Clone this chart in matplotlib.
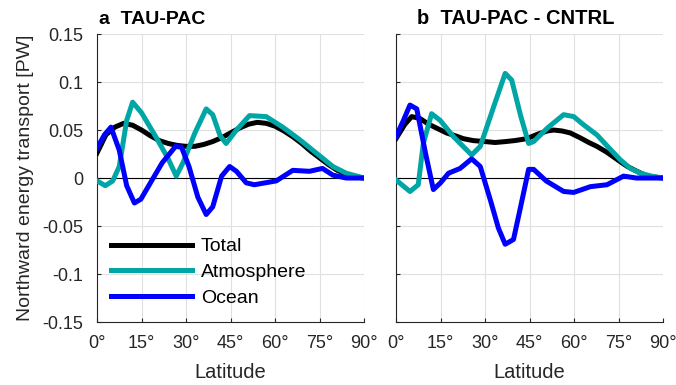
import matplotlib
matplotlib.use('Agg')
import matplotlib.pyplot as plt
import numpy as np

plt.rcParams['font.family'] = ['Liberation Sans', 'DejaVu Sans']

# panel a: TAU-PAC
a_tot_lat = [0, 3, 6, 9, 12, 15, 18, 21, 24, 27, 30, 33, 36, 39, 42, 45, 48, 51, 54,
             57, 60, 63, 66, 69, 72, 75, 78, 81, 84, 87, 90]
a_tot = [0.026, 0.045, 0.053, 0.057, 0.055, 0.050, 0.044, 0.039, 0.036, 0.034, 0.033,
         0.033, 0.035, 0.038, 0.042, 0.047, 0.052, 0.056, 0.058, 0.057, 0.054, 0.049,
         0.043, 0.036, 0.028, 0.021, 0.014, 0.008, 0.004, 0.001, 0.0]
a_atm_lat = [0, 2.8, 5.3, 7.5, 10, 12, 15, 20, 24, 26.7, 29, 33, 36.8, 39, 41.5, 43.5,
             47, 51.4, 57, 62.6, 68.3, 73.9, 79.5, 84, 90]
a_atm = [-0.003, -0.008, -0.003, 0.012, 0.060, 0.079, 0.068, 0.042, 0.020, 0.002, 0.016,
         0.047, 0.072, 0.066, 0.044, 0.036, 0.050, 0.065, 0.064, 0.053, 0.040, 0.026,
         0.012, 0.005, 0.0]
a_ocn_lat = [0, 2.5, 4.7, 7.5, 10, 12.6, 14.8, 18, 22, 26.5, 28.5, 31, 34, 36.8, 39,
             42, 44.7, 47, 50.3, 53, 60.4, 66, 71.6, 76, 79.5, 84, 90]
a_ocn = [0.031, 0.045, 0.053, 0.029, -0.008, -0.026, -0.022, -0.005, 0.016, 0.033,
         0.032, 0.012, -0.020, -0.038, -0.030, 0.002, 0.012, 0.007, -0.005, -0.007,
         -0.003, 0.008, 0.007, 0.010, 0.003, 0.0, 0.0]

# panel b: TAU-PAC - CNTRL
b_tot_lat = [0, 3, 5.3, 8.1, 11, 13.7, 17, 20, 22.7, 26, 30, 33.4, 37, 40, 44.1, 48,
             51, 53.1, 56, 58.7, 62, 65, 67.7, 71, 75.6, 78, 81.2, 84, 87, 90]
b_tot = [0.041, 0.056, 0.064, 0.062, 0.056, 0.052, 0.047, 0.044, 0.041, 0.039, 0.038,
         0.037, 0.038, 0.039, 0.041, 0.046, 0.049, 0.050, 0.049, 0.047, 0.042, 0.037,
         0.033, 0.027, 0.017, 0.012, 0.007, 0.003, 0.001, 0.0]
b_atm_lat = [0, 4.7, 7.5, 9.2, 12, 14.9, 19.4, 25.5, 28.4, 33, 36.8, 39, 42, 44.7,
             46.4, 51, 56.5, 59.9, 63, 67.7, 71, 75.6, 79, 82.4, 86, 90]
b_atm = [-0.002, -0.014, -0.007, 0.036, 0.067, 0.060, 0.043, 0.024, 0.033, 0.075,
         0.109, 0.102, 0.065, 0.036, 0.038, 0.052, 0.066, 0.064, 0.056, 0.045, 0.034,
         0.019, 0.010, 0.005, 0.002, 0.0]
b_ocn_lat = [0, 2.5, 4.7, 7, 10, 12.6, 15, 17.7, 21.6, 25.5, 28.4, 32, 34.5, 36.8,
             39.6, 42, 44.7, 46.4, 50.6, 56.5, 59.9, 65.5, 71.1, 76.7, 81, 90]
b_ocn = [0.043, 0.060, 0.076, 0.072, 0.025, -0.012, -0.005, 0.005, 0.010, 0.020, 0.012,
         -0.025, -0.052, -0.069, -0.064, -0.030, 0.009, 0.009, -0.003, -0.014, -0.015,
         -0.009, -0.007, 0.002, 0.0, 0.0]

xticks = [0, 15, 30, 45, 60, 75, 90]
yticks = [-0.15, -0.1, -0.05, 0, 0.05, 0.1, 0.15]
ytick_labels = ['-0.15', '-0.1', '-0.05', '0', '0.05', '0.1', '0.15']

c_tot = 'black'
c_atm = '#00a6a6'
c_ocn = '#0000ff'
lw = 3.6
txt = '#262626'

fig = plt.figure(figsize=(6.76, 3.85), dpi=100, facecolor='w')
ax1 = fig.add_axes([0.1435, 0.1636, 0.395, 0.748])
ax2 = fig.add_axes([0.5858, 0.1636, 0.395, 0.748])

panels = [
    (ax1, a_tot_lat, a_tot, a_atm_lat, a_atm, a_ocn_lat, a_ocn),
    (ax2, b_tot_lat, b_tot, b_atm_lat, b_atm, b_ocn_lat, b_ocn),
]

for ax, tl, tv, al, av, ol, ov in panels:
    ax.axhline(0, color='black', linewidth=0.8, zorder=1)
    ax.plot(tl, tv, color=c_tot, linewidth=lw, label='Total', zorder=3)
    ax.plot(al, av, color=c_atm, linewidth=lw, label='Atmosphere', zorder=3)
    ax.plot(ol, ov, color=c_ocn, linewidth=lw, label='Ocean', zorder=4)
    ax.set_xlim(0, 90)
    ax.set_ylim(-0.15, 0.15)
    ax.set_xticks(xticks)
    ax.set_xticklabels([str(t) + '\u00b0' for t in xticks])
    ax.set_yticks(yticks)
    ax.grid(True, color='#e0e0e0', linewidth=0.8, zorder=0)
    ax.set_axisbelow(True)
    for s in ['top', 'right']:
        ax.spines[s].set_visible(False)
    ax.spines['left'].set_color(txt)
    ax.spines['bottom'].set_color(txt)
    ax.tick_params(direction='in', length=3, labelsize=13, colors=txt,
                   labelcolor=txt)
    ax.tick_params(axis='x', pad=9)
    ax.tick_params(axis='y', pad=10)
    ax.set_xlabel('Latitude', fontsize=14.5, color=txt, labelpad=8)

ax1.set_yticklabels(ytick_labels)
ax2.set_yticklabels([])
ax1.set_ylabel('Northward energy transport [PW]', fontsize=14, color=txt, labelpad=6)

fig.text(99 / 676, 1 - 24 / 385, 'a  TAU-PAC', fontsize=14, fontweight='bold',
         ha='left', va='baseline')
fig.text(516 / 676, 1 - 24 / 385, 'b  TAU-PAC - CNTRL', fontsize=14.5, fontweight='bold',
         ha='center', va='baseline')

leg = ax1.legend(loc='lower left', frameon=False, fontsize=14, handlelength=4.2,
                 bbox_to_anchor=(0.0, 0.005), labelspacing=0.42, handletextpad=0.45,
                 borderaxespad=0.3)

fig.savefig('out.png', dpi=100, facecolor='w')
plt.close()
